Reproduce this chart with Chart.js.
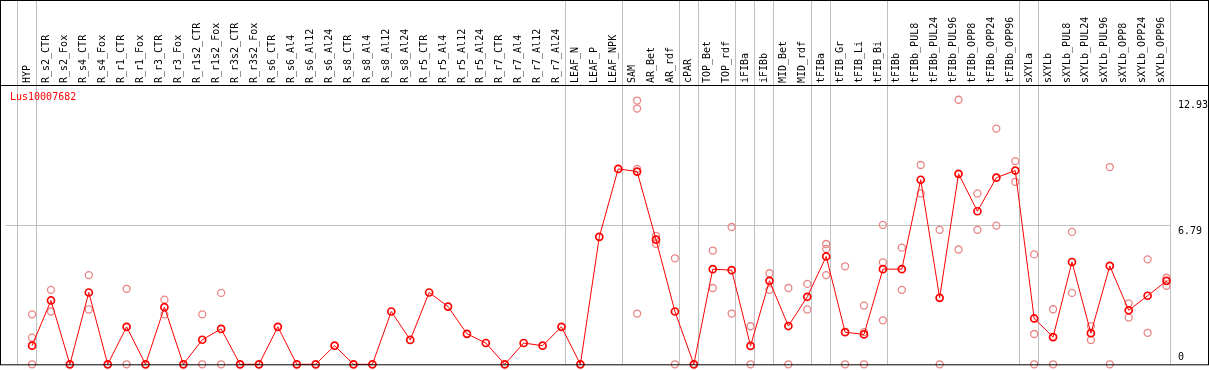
<!DOCTYPE html>
<html>
<head>
<meta charset="utf-8">
<script src="https://cdn.jsdelivr.net/npm/chart.js@4.4.1/dist/chart.umd.min.js"></script>
<style>
  html, body { margin: 0; padding: 0; background: #ffffff; }
  #wrap { position: relative; width: 1209px; height: 370px; }
</style>
</head>
<body>
<div id="wrap"><canvas id="c"></canvas></div>
<script>
const geneName = "Lus10007682";

const categories = [
  "HYP","R_s2_CTR","R_s2_Fox","R_s4_CTR","R_s4_Fox","R_r1_CTR","R_r1_Fox","R_r3_CTR","R_r3_Fox",
  "R_r1s2_CTR","R_r1s2_Fox","R_r3s2_CTR","R_r3s2_Fox","R_s6_CTR","R_s6_Al4","R_s6_Al12","R_s6_Al24",
  "R_s8_CTR","R_s8_Al4","R_s8_Al12","R_s8_Al24","R_r5_CTR","R_r5_Al4","R_r5_Al12","R_r5_Al24",
  "R_r7_CTR","R_r7_Al4","R_r7_Al12","R_r7_Al24","LEAF_N","LEAF_P","LEAF_NPK","SAM","AR_Bet","AR_rdf",
  "cPAR","TOP_Bet","TOP_rdf","iFIBa","iFIBb","MID_Bet","MID_rdf","tFIBa","tFIB_Gr","tFIB_Li","tFIB_Bi",
  "tFIBb","tFIBb_PUL8","tFIBb_PUL24","tFIBb_PUL96","tFIBb_OPP8","tFIBb_OPP24","tFIBb_OPP96",
  "sXYLa","sXYLb","sXYLb_PUL8","sXYLb_PUL24","sXYLb_PUL96","sXYLb_OPP8","sXYLb_OPP24","sXYLb_OPP96"
];

const meanValues = [
  0.91, 3.12, 0, 3.51, 0, 1.83, 0, 2.79, 0,
  1.20, 1.73, 0, 0, 1.83, 0, 0, 0.91,
  0, 0, 2.58, 1.19, 3.51, 2.82, 1.49, 1.04,
  0, 1.04, 0.91, 1.83, 0, 6.23, 9.55, 9.42, 6.09, 2.58,
  0, 4.65, 4.60, 0.90, 4.08, 1.87, 3.30, 5.27, 1.57, 1.46, 4.65,
  4.65, 9.02, 3.25, 9.31, 7.48, 9.12, 9.47,
  2.24, 1.33, 5.00, 1.52, 4.81, 2.64, 3.35, 4.08
];

const replicateValues = [
  [2.44, 1.30, 0], [3.64, 2.58], [], [4.36, 2.68], [], [3.69, 0], [], [3.16, 2.44], [],
  [2.44, 0], [3.49, 0], [], [], [], [], [], [],
  [], [], [], [], [], [], [], [],
  [], [], [], [], [], [], [], [12.89, 12.50, 9.55, 2.48], [6.28, 5.88], [5.18, 0],
  [], [5.56, 3.73], [6.71, 2.48], [1.86, 0], [4.45, 3.64], [3.73, 0], [3.93, 2.68],
  [5.88, 5.64, 4.36], [4.79, 0], [2.87, 1.57, 0], [6.81, 4.98, 2.15],
  [5.70, 3.64], [9.74, 8.35], [6.57, 0], [12.93, 5.61], [8.35, 6.57], [11.52, 6.78], [9.93, 8.92],
  [5.37, 1.48, 0], [2.69, 0], [6.47, 3.49], [1.87, 1.19], [9.64, 0], [2.98, 2.29], [5.13, 1.54], [4.23, 3.84]
];

const yTickValues = [0, 6.79, 12.93];
const yTickLabels = ["0", "6.79", "12.93"];

// index of the last category of each group (group separators)
const groupEnds = [-1, 0, 28, 31, 34, 35, 37, 38, 39, 41, 42, 45, 52, 53, 60];

const linePoints = meanValues.map((v, i) => ({ x: i, y: v }));
const repPoints = [];
replicateValues.forEach((arr, i) => arr.forEach(v => repPoints.push({ x: i, y: v })));

const MONO = "'DejaVu Sans Mono', 'Liberation Mono', monospace";

const framePlugin = {
  id: 'frame',
  beforeDatasetsDraw(chart) {
    const ctx = chart.ctx;
    const xs = chart.scales.x;
    ctx.save();
    ctx.fillStyle = '#c0c0c0';
    groupEnds.forEach(g => {
      const px = Math.round(xs.getPixelForValue(g + 0.2));
      ctx.fillRect(px, 0, 1, chart.chartArea.bottom);
    });
    ctx.restore();
  },
  afterDraw(chart) {
    const ctx = chart.ctx;
    const ys = chart.scales.y;
    const W = chart.width;
    ctx.save();
    ctx.strokeStyle = '#000000';
    ctx.lineWidth = 1;
    ctx.strokeRect(0.5, 0.5, W - 1, chart.chartArea.bottom);
    ctx.fillStyle = '#000000';
    ctx.fillRect(0, Math.round(chart.chartArea.top), W, 1);
    ctx.font = '10px ' + MONO;
    ctx.textAlign = 'left';
    yTickValues.forEach((v, k) => {
      const py = ys.getPixelForValue(v);
      if (v === 0) {
        ctx.textBaseline = 'alphabetic';
        ctx.fillText(yTickLabels[k], chart.chartArea.right + 8, py - 4);
      } else {
        ctx.textBaseline = 'middle';
        ctx.fillText(yTickLabels[k], chart.chartArea.right + 8, py + 6);
      }
    });
    ctx.fillStyle = '#ff0000';
    ctx.font = '10px ' + MONO;
    ctx.textBaseline = 'middle';
    ctx.fillText(geneName, 10, chart.chartArea.top + 12);
    ctx.restore();
  }
};

new Chart(document.getElementById('c'), {
  type: 'line',
  data: {
    datasets: [
      {
        label: 'mean',
        data: linePoints,
        borderColor: '#ff0000',
        borderWidth: 1,
        pointStyle: 'circle',
        pointRadius: 3.5,
        pointBorderWidth: 1.7,
        pointBorderColor: '#ff0000',
        pointBackgroundColor: 'rgba(255,255,255,0)',
        tension: 0,
        clip: false,
        order: 1
      },
      {
        label: 'replicates',
        data: repPoints,
        showLine: false,
        borderColor: '#e98585',
        pointStyle: 'circle',
        pointRadius: 3.5,
        pointBorderWidth: 1.3,
        pointBorderColor: '#e98585',
        pointBackgroundColor: 'rgba(255,255,255,0)',
        clip: false,
        order: 2
      }
    ]
  },
  options: {
    responsive: true,
    maintainAspectRatio: false,
    animation: false,
    layout: { padding: { left: 0, right: 0, top: 0, bottom: 1 } },
    plugins: { legend: { display: false }, tooltip: { enabled: false }, title: { display: false } },
    scales: {
      x: {
        type: 'linear',
        position: 'top',
        min: -1.395,
        max: 60.184,
        afterBuildTicks(scale) { scale.ticks = categories.map((c, i) => ({ value: i })); },
        afterFit(scale) { scale.height = 85; },
        grid: { display: false, drawTicks: false },
        border: { display: false },
        ticks: {
          autoSkip: false,
          minRotation: 90,
          maxRotation: 90,
          padding: 2,
          labelOffset: 7,
          color: '#000000',
          font: { family: MONO, size: 10 },
          callback: (v) => categories[v] !== undefined ? categories[v] : ''
        }
      },
      y: {
        type: 'linear',
        position: 'right',
        min: 0,
        max: 13.65,
        afterBuildTicks(scale) { scale.ticks = yTickValues.map(v => ({ value: v })); },
        afterFit(scale) { scale.width = 39; },
        grid: {
          drawTicks: false,
          color: (ctx) => (ctx.tick && ctx.tick.value === 6.79) ? '#c0c0c0' : 'rgba(0,0,0,0)'
        },
        border: { display: false },
        ticks: { display: false }
      }
    }
  },
  plugins: [framePlugin]
});
</script>
</body>
</html>
